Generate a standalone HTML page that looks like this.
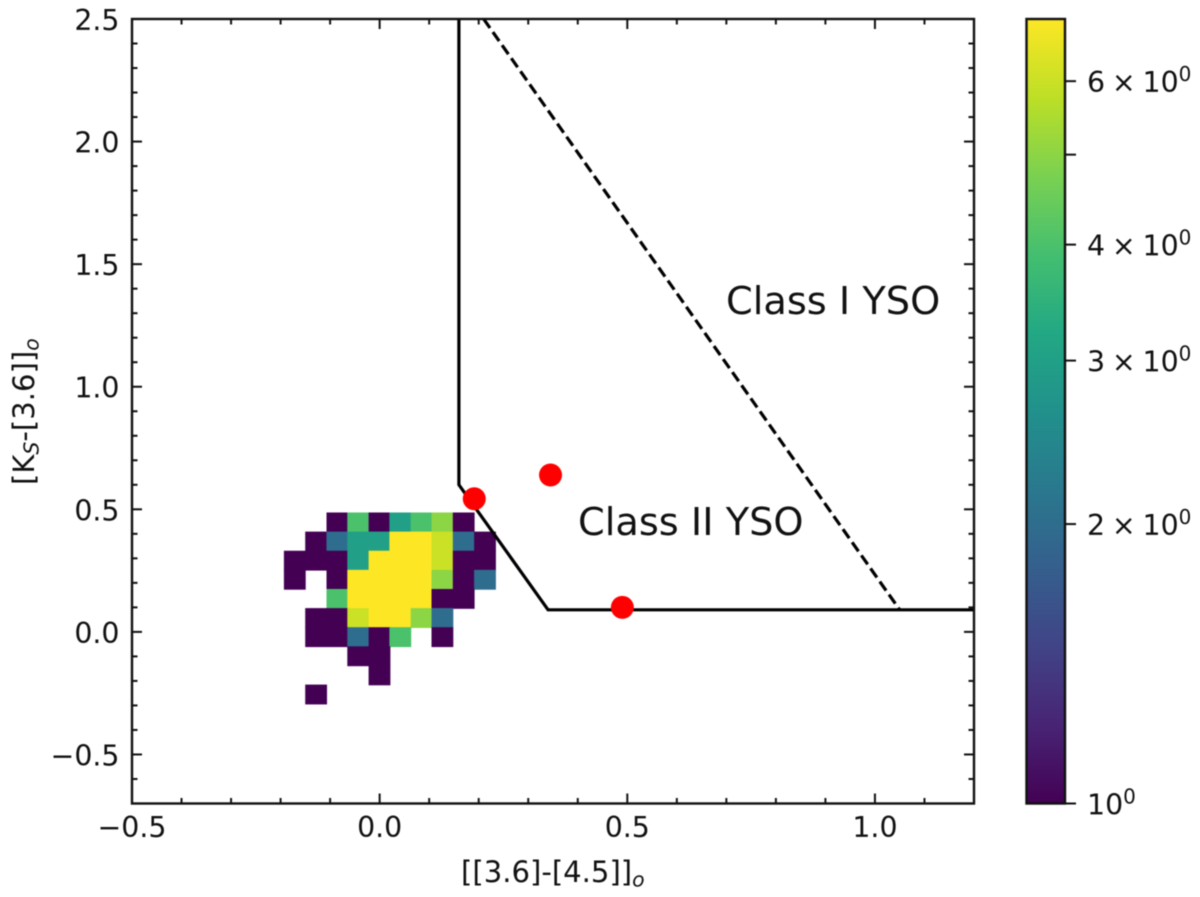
<!DOCTYPE html>
<html>
<head>
<meta charset="utf-8">
<style>
html,body{margin:0;padding:0;background:#fff;}
svg{display:block;font-family:"DejaVu Sans","Liberation Sans",sans-serif;fill:#111;filter:blur(0.45px);}
</style>
</head>
<body>
<svg id="chart" xmlns="http://www.w3.org/2000/svg" width="1200" height="897" viewBox="0 0 1200 897">
  <defs>
    <linearGradient id="viridis-gradient" x1="0" y1="1" x2="0" y2="0">
      <stop offset="0" stop-color="#440154"/>
      <stop offset="0.1" stop-color="#482475"/>
      <stop offset="0.2" stop-color="#414487"/>
      <stop offset="0.3" stop-color="#355f8d"/>
      <stop offset="0.4" stop-color="#2a788e"/>
      <stop offset="0.5" stop-color="#21918c"/>
      <stop offset="0.6" stop-color="#22a884"/>
      <stop offset="0.7" stop-color="#44bf70"/>
      <stop offset="0.8" stop-color="#7ad151"/>
      <stop offset="0.9" stop-color="#bddf26"/>
      <stop offset="1" stop-color="#fde725"/>
    </linearGradient>
  </defs>
  <g id="heatmap"></g>
  <g id="curves"></g>
  <g id="points"></g>
  <g id="axes"></g>
  <text x="726" y="314" font-size="38.3">Class I YSO</text>
  <text x="578" y="535" font-size="38.3">Class II YSO</text>
  <text x="461" y="882" font-size="29.1">[[3.6]-[4.5]]<tspan font-size="20.4" font-style="italic" dy="4.5">o</tspan></text>
  <text transform="translate(34,485) rotate(-90)" font-size="29.1">[K<tspan font-size="20.4" font-style="italic" dy="4.5">S</tspan><tspan dy="-4.5">-[3.6]]</tspan><tspan font-size="20.4" font-style="italic" dy="4.5">o</tspan></text>
  <g id="colorbar">
    <rect x="1026.5" y="19" width="38.5" height="784.5" fill="url(#viridis-gradient)" stroke="#111" stroke-width="2.4"/>
  </g>
</svg>
<script>
const xBinCenters = [-0.172, -0.129, -0.086, -0.044, -0.001, 0.041, 0.084, 0.126, 0.169, 0.212];
const yBinCenters = [0.448, 0.370, 0.292, 0.214, 0.136, 0.058, -0.020, -0.098, -0.176, -0.254];
const counts = [
  [0,0,1,4,1,3,4,5,1,0],
  [0,1,2,3,3,7,7,6,2,1],
  [1,1,1,3,7,7,7,6,1,1],
  [1,0,1,7,7,7,7,5,1,2],
  [0,0,4,7,7,7,7,1,1,0],
  [0,1,1,6,7,7,5,2,0,0],
  [0,1,1,2,1,4,0,1,0,0],
  [0,0,0,1,1,0,0,0,0,0],
  [0,0,0,0,1,0,0,0,0,0],
  [0,1,0,0,0,0,0,0,0,0]
];
const solidX = [0.16, 0.16, 0.34, 1.2];
const solidY = [2.5, 0.6, 0.09, 0.09];
const dashedX = [0.21, 1.05];
const dashedY = [2.5, 0.09];
const pointX = [0.191, 0.345, 0.49];
const pointY = [0.543, 0.64, 0.10];
const xTicks = [-0.5, 0.0, 0.5, 1.0];
const xTickLabels = ["\u22120.5", "0.0", "0.5", "1.0"];
const yTicks = [-0.5, 0.0, 0.5, 1.0, 1.5, 2.0, 2.5];
const yTickLabels = ["\u22120.5", "0.0", "0.5", "1.0", "1.5", "2.0", "2.5"];
const cbarTicks = [1, 2, 3, 4, 5, 6];
const cbarMantissas = ["", "2", "3", "4", "", "6"];
const viridisStops = ["#440154","#482475","#414487","#355f8d","#2a788e","#21918c","#22a884","#44bf70","#7ad151","#bddf26","#fde725"];

const NS = "http://www.w3.org/2000/svg";
const left = 132, right = 974, top_ = 19, bottom = 803.5;
const xMin = -0.5, xMax = 1.2, yMin = -0.7, yMax = 2.5;
const binW = 0.0426, binH = 0.0781;
const vMin = 1, vMax = 7;
function sx(v) { return left + (v - xMin) / (xMax - xMin) * (right - left); }
function sy(v) { return bottom - (v - yMin) / (yMax - yMin) * (bottom - top_); }
function norm(v) { return Math.min(1, Math.max(0, Math.log(v / vMin) / Math.log(vMax / vMin))); }
function sc(v) { return bottom - norm(v) * (bottom - top_); }
function hexToRgb(h) { return [1, 3, 5].map(function (i) { return parseInt(h.substr(i, 2), 16); }); }
function colorFor(v) {
  const t = norm(v) * (viridisStops.length - 1);
  const i = Math.min(viridisStops.length - 2, Math.floor(t));
  const a = hexToRgb(viridisStops[i]), b = hexToRgb(viridisStops[i + 1]);
  const f = t - i;
  return "rgb(" + a.map(function (c, k) { return Math.round(c + (b[k] - c) * f); }).join(",") + ")";
}
function make(tag, parent, attrs) {
  const el = document.createElementNS(NS, tag);
  for (const k in attrs) el.setAttribute(k, attrs[k]);
  parent.appendChild(el);
  return el;
}

const heatmap = document.getElementById("heatmap");
counts.forEach(function (row, r) {
  row.forEach(function (v, c) {
    if (!v) return;
    const cell = make("rect", heatmap, {
      x: sx(xBinCenters[c] - binW / 2),
      y: sy(yBinCenters[r] + binH / 2),
      width: sx(binW) - sx(0) + 0.7,
      height: sy(0) - sy(binH) + 0.7,
      fill: colorFor(v)
    });
    
    
  });
});

const curves = document.getElementById("curves");
const solidLine = make("polyline", curves, {
  points: solidX.map(function (x, i) { return sx(x) + "," + sy(solidY[i]); }).join(" "),
  fill: "none", stroke: "#000", "stroke-width": 3.2
});


const dashedLine = make("polyline", curves, {
  points: dashedX.map(function (x, i) { return sx(x) + "," + sy(dashedY[i]); }).join(" "),
  fill: "none", stroke: "#000", "stroke-width": 3.2, "stroke-dasharray": "11 5"
});



const points = document.getElementById("points");
pointX.forEach(function (x, i) {
  const p = make("circle", points, { cx: sx(x), cy: sy(pointY[i]), r: 11.5, fill: "#ff0000" });
  
  
});

const axes = document.getElementById("axes");
function tick(x1, y1, x2, y2, w) {
  const t = make("line", axes, { x1: x1, y1: y1, x2: x2, y2: y2, stroke: "#111", "stroke-width": w });
  
  
}
const MAJOR = 10, MINOR = 5.5;
for (let i = -5; i <= 12; i++) {
  const v = i / 10, x = sx(v), major = i % 5 === 0, len = major ? MAJOR : MINOR;
  tick(x, bottom, x, bottom - len, 2);
  tick(x, top_, x, top_ + len, 2);
}
for (let i = -7; i <= 25; i++) {
  const v = i / 10, y = sy(v), major = i % 5 === 0, len = major ? MAJOR : MINOR;
  tick(left, y, left + len, y, 2);
  tick(right, y, right - len, y, 2);
}
const frame = make("rect", axes, { x: left, y: top_, width: right - left, height: bottom - top_, fill: "none", stroke: "#111", "stroke-width": 2.4 });


xTicks.forEach(function (v, i) {
  const t = make("text", axes, { x: sx(v), y: 837, "text-anchor": "middle", "font-size": 28.4 });
  
  
  t.textContent = xTickLabels[i];
});
yTicks.forEach(function (v, i) {
  const t = make("text", axes, { x: 119.5, y: sy(v) + 11, "text-anchor": "end", "font-size": 28.4 });
  
  
  t.textContent = yTickLabels[i];
});

const colorbar = document.getElementById("colorbar");
cbarTicks.forEach(function (v, i) {
  const y = sc(v);
  const t = make("line", colorbar, { x1: 1065, y1: y, x2: 1076, y2: y, stroke: "#111", "stroke-width": 2 });
  
  
  const isBase = v === vMin;
  if (!isBase && !cbarMantissas[i]) return;
  const label = make("text", colorbar, { x: 1087, y: y + 11, "font-size": 28.4, "word-spacing": "-2.2px" });
  
  
  const prefix = isBase ? "10" : cbarMantissas[i] + " \u00d7 10";
  label.appendChild(document.createTextNode(prefix));
  const sup = make("tspan", label, { "font-size": 20, dy: -11 });
  sup.textContent = "0";
});
</script>
</body>
</html>
